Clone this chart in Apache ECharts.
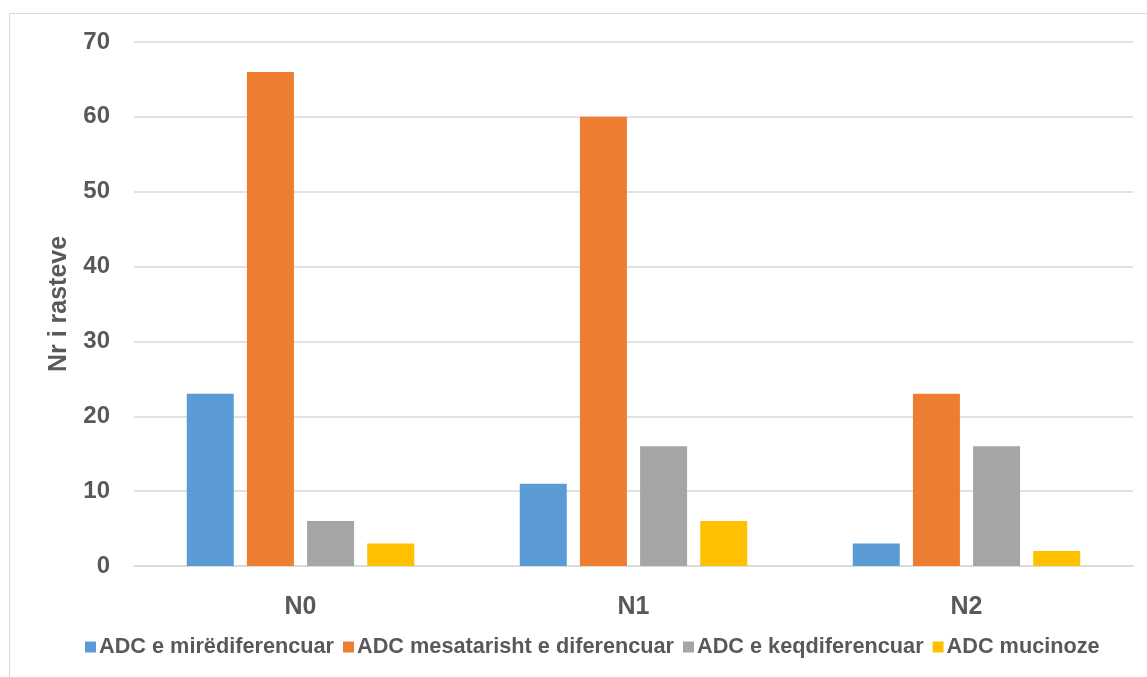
<!DOCTYPE html>
<html>
<head>
<meta charset="utf-8">
<script src="https://cdn.jsdelivr.net/npm/echarts@6/dist/echarts.min.js"></script>
<style>
  html, body { margin: 0; padding: 0; background: #ffffff; }
  #chart { width: 1147px; height: 677px; }
</style>
</head>
<body>
<div id="chart"></div>
<script>
// Lymph node stage categories
const categories = ['N0', 'N1', 'N2'];

// Case counts per histological type
const seriesNames = [
  'ADC e mirëdiferencuar',
  'ADC mesatarisht e diferencuar',
  'ADC e keqdiferencuar',
  'ADC mucinoze'
];
const wellDiff = [23, 11, 3];
const moderatelyDiff = [66, 60, 23];
const poorlyDiff = [6, 16, 16];
const mucinous = [3, 6, 2];

const seriesColors = ['#5B9BD5', '#ED7D31', '#A5A5A5', '#FFC000'];
const seriesData = [wellDiff, moderatelyDiff, poorlyDiff, mucinous];

const textColor = '#595959';
const fontFamily = '"Liberation Sans", Arial, sans-serif';

const chart = echarts.init(document.getElementById('chart'));

chart.setOption({
  animation: false,
  backgroundColor: '#ffffff',
  textStyle: { fontFamily: fontFamily },
  graphic: [{
    type: 'rect',
    shape: { x: 9.5, y: 13.5, width: 1200, height: 700 },
    style: { fill: 'none', stroke: '#d9d9d9', lineWidth: 1 },
    silent: true,
    z: -1
  }],
  grid: { left: 134, right: 14, top: 42, bottom: 111 },
  legend: {
    bottom: 14,
    left: 80,
    itemWidth: 11,
    itemHeight: 11,
    itemGap: 9,
    icon: 'rect',
    textStyle: { color: textColor, fontSize: 21.7, fontWeight: 'bold', fontFamily: fontFamily, padding: [0, 0, 0, -2] },
    data: seriesNames
  },
  xAxis: {
    type: 'category',
    data: categories,
    axisTick: { show: false },
    axisLine: { lineStyle: { color: '#d9d9d9', width: 1.5 } },
    axisLabel: { color: textColor, fontSize: 25, fontWeight: 'bold', margin: 29 }
  },
  yAxis: {
    type: 'value',
    min: 0,
    max: 70,
    interval: 10,
    name: 'Nr i rasteve',
    nameLocation: 'middle',
    nameGap: 62,
    nameTextStyle: { color: textColor, fontSize: 25, fontWeight: 'bold' },
    axisLine: { show: false },
    axisTick: { show: false },
    splitLine: { lineStyle: { color: '#d9d9d9', width: 1.5 } },
    axisLabel: { color: textColor, fontSize: 24, fontWeight: 'bold', margin: 24 }
  },
  series: seriesNames.map((name, i) => ({
    name: name,
    type: 'bar',
    data: seriesData[i],
    barWidth: 47,
    barGap: '28%',
    itemStyle: { color: seriesColors[i] }
  }))
});
</script>
</body>
</html>
